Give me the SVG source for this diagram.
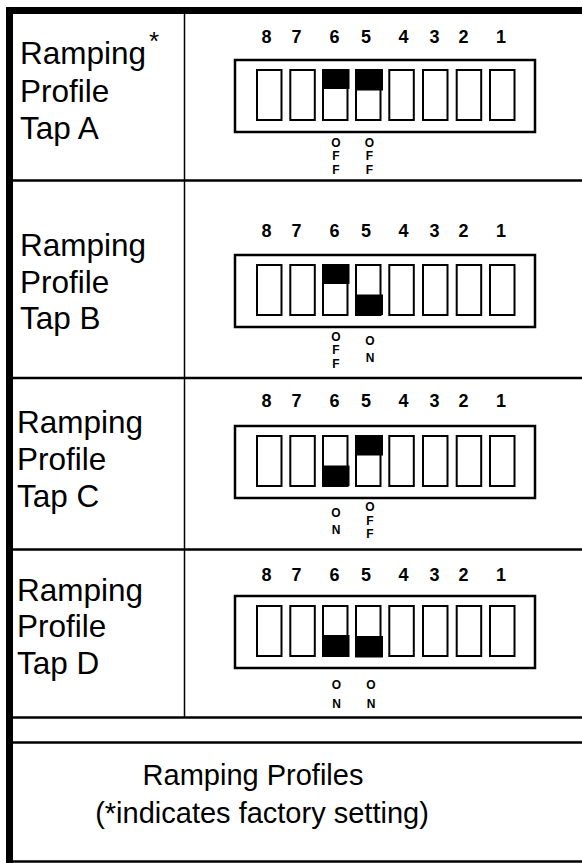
<svg xmlns="http://www.w3.org/2000/svg" width="582" height="863" viewBox="0 0 582 863">
<style>
.lbl{font-family:"Liberation Sans",Arial,sans-serif;font-size:31.5px;fill:#000}
.cap{font-family:"Liberation Sans",Arial,sans-serif;font-size:29px;fill:#000;text-anchor:middle}
.num{font-family:"Liberation Sans",Arial,sans-serif;font-size:18px;font-weight:bold;fill:#000;text-anchor:middle}
.st{font-family:"Liberation Sans",Arial,sans-serif;font-size:12px;font-weight:bold;fill:#000;text-anchor:middle}
.box{fill:#fff;stroke:#000;stroke-width:2.5}
.sw{fill:#fff;stroke:#000;stroke-width:2}
.knob{fill:#000}
.rule{stroke:#000;stroke-width:2.5}
</style>
<defs>
<g id="nums">
<text class="num" x="266.5" y="0">8</text>
<text class="num" x="296.5" y="0">7</text>
<text class="num" x="334.5" y="0">6</text>
<text class="num" x="366" y="0">5</text>
<text class="num" x="403.5" y="0">4</text>
<text class="num" x="434.5" y="0">3</text>
<text class="num" x="463.5" y="0">2</text>
<text class="num" x="501" y="0">1</text>
</g>
<g id="switches">
<rect class="box" x="235" y="0" width="300" height="72"/>
<rect class="sw" x="257" y="10" width="24.5" height="50"/>
<rect class="sw" x="290.3" y="10" width="24.5" height="50"/>
<rect class="sw" x="323" y="10" width="24.5" height="50"/>
<rect class="sw" x="356" y="10" width="24.5" height="50"/>
<rect class="sw" x="389.3" y="10" width="24.5" height="50"/>
<rect class="sw" x="423" y="10" width="24.5" height="50"/>
<rect class="sw" x="456.7" y="10" width="24.5" height="50"/>
<rect class="sw" x="490" y="10" width="24.5" height="50"/>
</g>
</defs>
<rect x="0" y="0" width="582" height="863" fill="#fff"/>
<g id="grid">
<rect x="6" y="7" width="576" height="7" fill="#000"/>
<rect x="6" y="7" width="7" height="856" fill="#000"/>
<line class="rule" x1="13" y1="180.5" x2="582" y2="180.5"/>
<line class="rule" x1="13" y1="378" x2="582" y2="378"/>
<line class="rule" x1="13" y1="549.5" x2="582" y2="549.5"/>
<line class="rule" x1="13" y1="717.5" x2="582" y2="717.5"/>
<line class="rule" x1="13" y1="742.5" x2="582" y2="742.5"/>
<line class="rule" x1="13" y1="861.5" x2="582" y2="861.5"/>
<line x1="184.5" y1="14" x2="184.5" y2="717" stroke="#000" stroke-width="1.5"/>
</g>
<g id="tapA">
<text class="lbl" x="20" y="64">Ramping</text>
<text class="lbl" x="149" y="50" style="font-size:26px">*</text>
<text class="lbl" x="20" y="101.5">Profile</text>
<text class="lbl" x="20" y="138.5">Tap A</text>
<use href="#nums" y="43"/>
<use href="#switches" y="60"/>
<rect class="knob" x="322" y="69" width="27.5" height="20"/>
<rect class="knob" x="355" y="69" width="28" height="21.5"/>
<text class="st" x="336" y="146.5">O</text><text class="st" x="336" y="160">F</text><text class="st" x="336" y="173.5">F</text>
<text class="st" x="369.5" y="146.5">O</text><text class="st" x="369.5" y="160">F</text><text class="st" x="369.5" y="173.5">F</text>
</g>
<g id="tapB">
<text class="lbl" x="20" y="256">Ramping</text>
<text class="lbl" x="20" y="292.5">Profile</text>
<text class="lbl" x="20" y="329">Tap B</text>
<use href="#nums" y="237"/>
<use href="#switches" y="255"/>
<rect class="knob" x="322" y="264" width="27.5" height="20"/>
<rect class="knob" x="355" y="294.5" width="28" height="20.5"/>
<text class="st" x="336" y="340.5">O</text><text class="st" x="336" y="354">F</text><text class="st" x="336" y="367.5">F</text>
<text class="st" x="370" y="345">O</text><text class="st" x="370" y="362">N</text>
</g>
<g id="tapC">
<text class="lbl" x="17" y="432.5">Ramping</text>
<text class="lbl" x="17" y="470">Profile</text>
<text class="lbl" x="17" y="507">Tap C</text>
<use href="#nums" y="407"/>
<use href="#switches" y="426"/>
<rect class="knob" x="322" y="465.5" width="27.5" height="20.5"/>
<rect class="knob" x="355" y="435" width="28" height="20.5"/>
<text class="st" x="336" y="517">O</text><text class="st" x="336" y="534">N</text>
<text class="st" x="370" y="511">O</text><text class="st" x="370" y="524.5">F</text><text class="st" x="370" y="538">F</text>
</g>
<g id="tapD">
<text class="lbl" x="17" y="600.5">Ramping</text>
<text class="lbl" x="17" y="637">Profile</text>
<text class="lbl" x="17" y="674">Tap D</text>
<use href="#nums" y="581"/>
<use href="#switches" y="596"/>
<rect class="knob" x="322" y="635" width="27.5" height="22"/>
<rect class="knob" x="355" y="636" width="28" height="21.5"/>
<text class="st" x="336.5" y="689">O</text><text class="st" x="336.5" y="708">N</text>
<text class="st" x="371" y="689">O</text><text class="st" x="371" y="708">N</text>
</g>
<g id="caption">
<text class="cap" x="253" y="785">Ramping Profiles</text>
<text class="cap" x="262" y="823">(*indicates factory setting)</text>
</g>
</svg>
